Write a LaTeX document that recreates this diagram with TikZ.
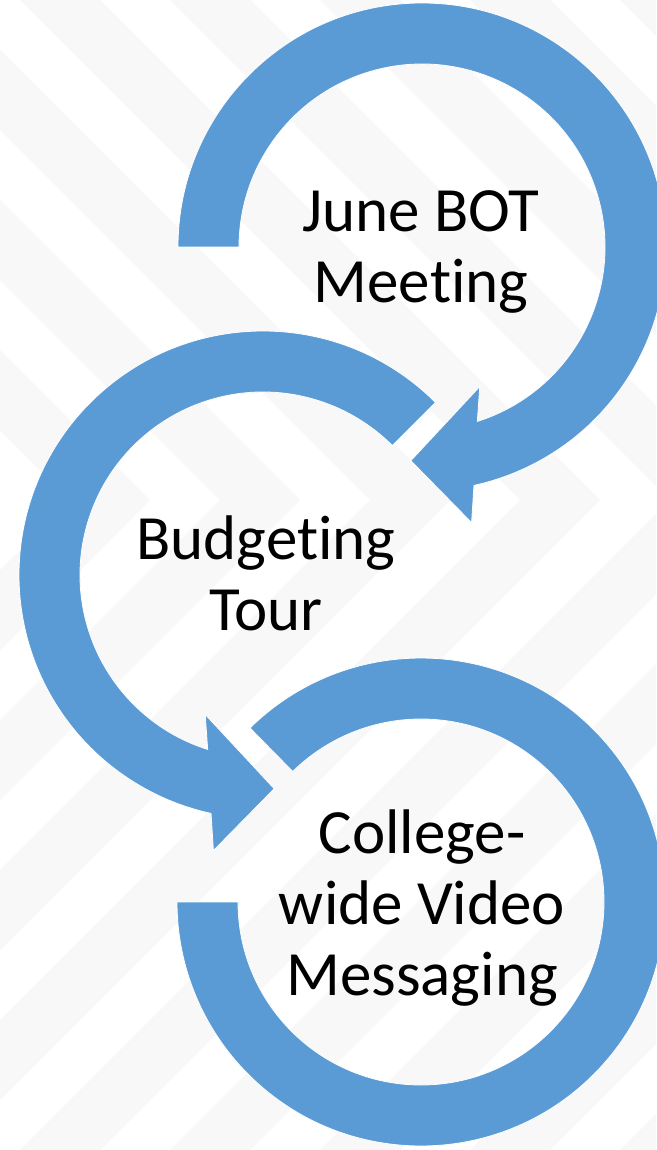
\documentclass[tikz,border=0pt]{standalone}
\usepackage{fontspec}
\setmainfont{Carlito}[Ligatures=NoCommon]
\usetikzlibrary{calc}
\definecolor{ringblue}{HTML}{5B9BD5}
\definecolor{stripegray}{HTML}{F8F8F8}
\begin{document}
\begin{tikzpicture}[x=1pt,y=1pt,
  ring/.style={fill=ringblue, draw=white, line width=0.8pt},
  ringtext/.style={font=\fontsize{63}{71}\selectfont, align=center, text=black, inner sep=0pt}]
\useasboundingbox (0,0) rectangle (656,-1150);
\fill[white] (0,0) rectangle (656,-1150);
\begin{scope}
  \clip (0,0) rectangle (656,-1150);
  \foreach \k in {-2,...,10} {
    \pgfmathsetmacro\a{\k*150}
    \fill[stripegray] (\a-1200,700) -- (\a,-500) -- (\a-1200,-1700) -- (\a-1280,-1700) -- (\a-80,-500) -- (\a-1280,700) -- cycle;
  }
\end{scope}
% centres
\coordinate (A) at (422,-247);
\coordinate (B) at (263,-575);
\coordinate (C) at (421,-902);
% ring A: June BOT Meeting
\path[ring] ($(A)+(180:244)$) arc[start angle=180,end angle=-77.7,radius=244]
  -- ($(A)+(-79.8:280)$) -- ($(A)+(-93:214)$) -- ($(A)+(-67.5:151)$)
  -- ($(A)+(-72.4:183)$) arc[start angle=-72.4,end angle=180,radius=183] -- cycle;
% ring B: Budgeting Tour
\path[ring] ($(B)+(45:244)$) arc[start angle=45,end angle=257.7,radius=244]
  -- ($(B)+(259.8:280)$) -- ($(B)+(273:214)$) -- ($(B)+(247.5:151)$)
  -- ($(B)+(252.4:183)$) arc[start angle=252.4,end angle=45,radius=183] -- cycle;
% ring C: College-wide Video Messaging
\path[ring] ($(C)+(134.5:244)$) arc[start angle=134.5,end angle=-180,radius=244]
  -- ($(C)+(-180:183)$) arc[start angle=-180,end angle=134.5,radius=183] -- cycle;
% texts (base anchor = baseline of the last line)
\node[ringtext, anchor=base] (june) at (421,-302) {June BOT\\Meeting};
\node[ringtext, anchor=base] (budget) at (266,-630) {Budgeting\\Tour};
\node[ringtext, anchor=base] (video) at (422,-995) {College-\\wide Video\\Messaging};
\end{tikzpicture}
\end{document}
